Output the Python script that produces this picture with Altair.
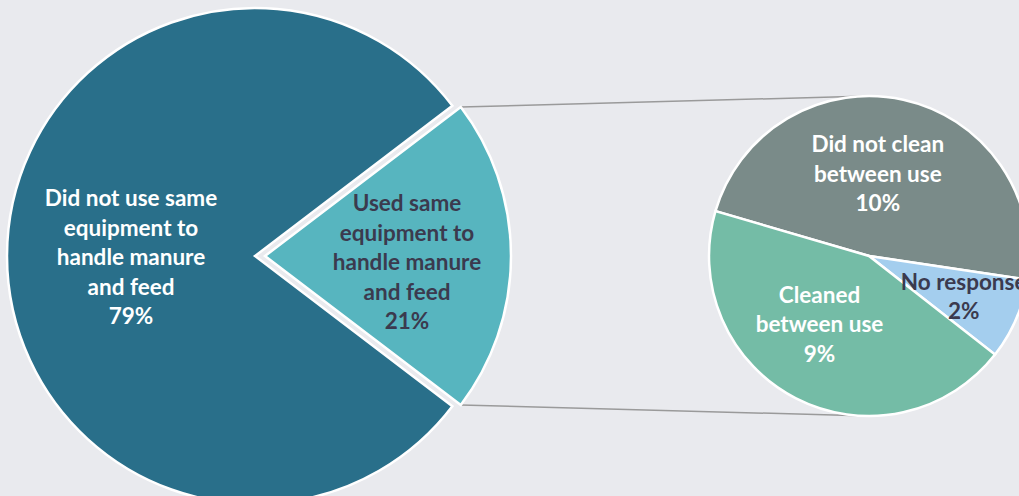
import math
import altair as alt
import pandas as pd

# ---- data ----
big_cats = ["Used same equipment", "Did not use same equipment"]
big_vals = [20.7, 79.3]
big_labels = ["Used same\nequipment to\nhandle manure\nand feed\n21%",
              "Did not use same\nequipment to\nhandle manure\nand feed\n79%"]

small_cats = ["Did not clean between use", "No response", "Cleaned between use"]
small_vals = [9.9, 1.7, 9.1]
small_labels = ["Did not clean\nbetween use\n10%", "No response\n2%", "Cleaned\nbetween use\n9%"]

# ---- style / layout ----
BG = "#e9eaee"
FONT = "Lato"
FS = 22.5
LH = 29.5
big_colors = {"Used same equipment": "#57b5bf", "Did not use same equipment": "#296f8a"}
small_colors = {"Did not clean between use": "#7a8b89", "No response": "#a4ceee",
                "Cleaned between use": "#74bca6"}
label_colors = {"Used same equipment": "#3b3a4e", "Did not use same equipment": "white",
                "Did not clean between use": "white", "No response": "#3b3a4e",
                "Cleaned between use": "white"}

BCX, BCY, BR = 255, 256, 248
EX_OFF = 10
SCX, SCY, SR = 869, 256, 160

big_total = sum(big_vals)
small_total = sum(small_vals)
share = big_vals[0] / big_total
big_start = math.radians(90 - share * 180)
small_start = math.radians(-73.7)

big_df = pd.DataFrame({"cat": big_cats, "v": big_vals, "label": big_labels,
                       "k": list(range(len(big_cats)))})
small_df = pd.DataFrame({"cat": small_cats, "v": small_vals, "label": small_labels,
                         "k": list(range(len(small_cats)))})


def base(df):
    return (alt.Chart(df)
            .transform_window(end="sum(v)", sort=[alt.SortField("k", order="ascending")],
                              frame=[None, 0])
            .transform_calculate(start="datum.end - datum.v",
                                 mid="datum.end - datum.v/2"))


def tscale(start, total):
    return alt.Scale(domain=[0, total], range=[start, start + 2 * math.pi], nice=False, zero=False)


def block_shift(label):
    n = label.count("\n") + 1
    return -(n - 1) / 2 * LH


layers = []

# connector lines
a1 = big_start
a2 = big_start + share * 2 * math.pi
ecx = BCX + EX_OFF
p1 = (ecx + (BR - 2) * math.sin(a1), BCY - (BR - 2) * math.cos(a1))
p2 = (ecx + (BR - 2) * math.sin(a2), BCY - (BR - 2) * math.cos(a2))
line_df = pd.DataFrame({"i": [0]})
layers.append(alt.Chart(line_df).mark_rule(color="#9a9a9a", strokeWidth=1.5).encode(
    x=alt.value(p1[0]), y=alt.value(p1[1]), x2=alt.value(SCX), y2=alt.value(SCY - SR)))
layers.append(alt.Chart(line_df).mark_rule(color="#9a9a9a", strokeWidth=1.5).encode(
    x=alt.value(p2[0]), y=alt.value(p2[1]), x2=alt.value(SCX), y2=alt.value(SCY + SR)))

# big pie: each slice own layer
for cat in big_cats:
    cx = BCX + (EX_OFF if cat == big_cats[0] else 0)
    r = BR - 2 if cat == big_cats[0] else BR
    layers.append(
        base(big_df)
        .transform_filter(alt.datum.cat == cat)
        .mark_arc(stroke="white", strokeWidth=2.5, color=big_colors[cat], outerRadius=r)
        .encode(theta=alt.Theta("start:Q", scale=tscale(big_start, big_total)),
                theta2="end:Q", x=alt.value(cx), y=alt.value(BCY))
    )

big_text_pos = {"Used same equipment": (142, 0, 7), "Did not use same equipment": (124, 0, 2)}
for cat, lab in zip(big_cats, big_labels):
    cx = BCX + (EX_OFF if cat == big_cats[0] else 0)
    rr, ddx, ddy = big_text_pos[cat]
    layers.append(
        base(big_df)
        .transform_filter(alt.datum.cat == cat)
        .mark_text(font=FONT, fontSize=FS, fontWeight="bold", lineBreak="\n", lineHeight=LH,
                   align="center", baseline="middle", color=label_colors[cat],
                   radius=rr, dx=ddx, dy=ddy + block_shift(lab))
        .encode(theta=alt.Theta("mid:Q", scale=tscale(big_start, big_total)),
                x=alt.value(cx), y=alt.value(BCY), text="label:N")
    )

# small pie
for cat in small_cats:
    layers.append(
        base(small_df)
        .transform_filter(alt.datum.cat == cat)
        .mark_arc(stroke="white", strokeWidth=2.5, color=small_colors[cat], outerRadius=SR)
        .encode(theta=alt.Theta("start:Q", scale=tscale(small_start, small_total)),
                theta2="end:Q", x=alt.value(SCX), y=alt.value(SCY))
    )

small_text_pos = {"Did not clean between use": (83, -9, 0), "No response": (103, 0, 1),
                  "Cleaned between use": (80, -13, -2)}
for cat, lab in zip(small_cats, small_labels):
    rr, ddx, ddy = small_text_pos[cat]
    layers.append(
        base(small_df)
        .transform_filter(alt.datum.cat == cat)
        .mark_text(font=FONT, fontSize=FS, fontWeight="bold", lineBreak="\n", lineHeight=LH,
                   align="center", baseline="middle", color=label_colors[cat],
                   radius=rr, dx=ddx, dy=ddy + block_shift(lab))
        .encode(theta=alt.Theta("mid:Q", scale=tscale(small_start, small_total)),
                x=alt.value(SCX), y=alt.value(SCY), text="label:N")
    )

chart = (alt.layer(*layers)
         .resolve_scale(theta="independent")
         .properties(width=1019, height=496, background=BG,
                     autosize=alt.AutoSizeParams(type="none"), padding=0)
         .configure_view(stroke=None))

chart.save("out.html", embed_options={"renderer": "svg", "actions": False})
